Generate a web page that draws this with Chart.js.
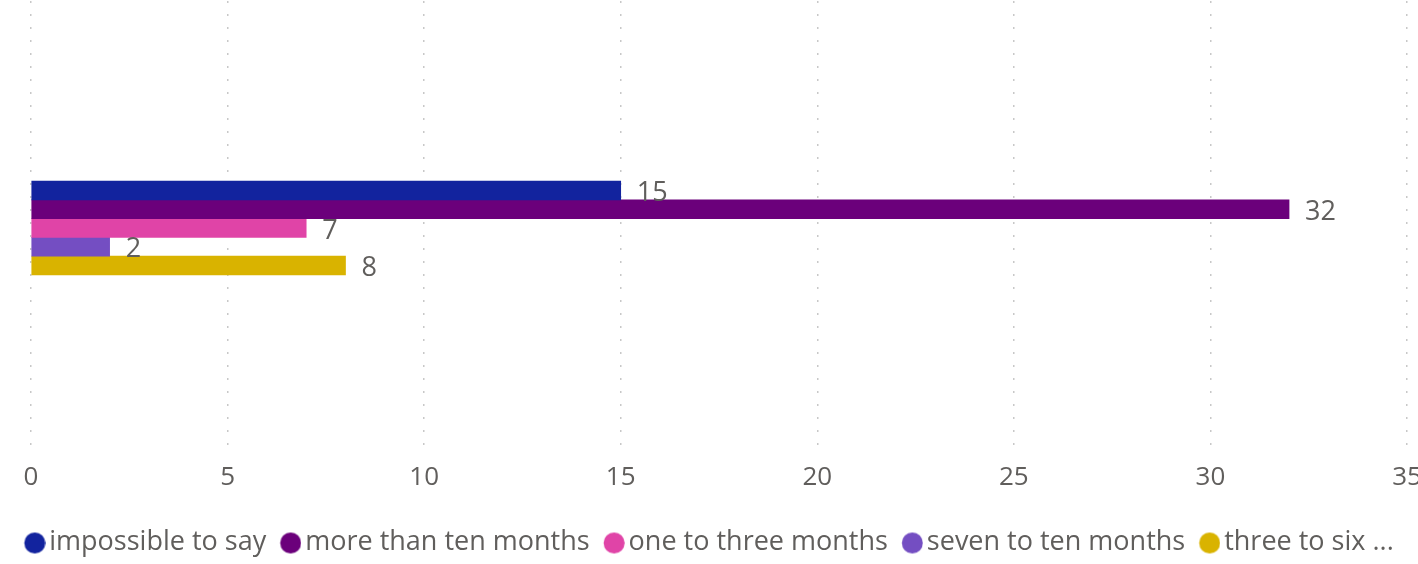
<!DOCTYPE html>
<html>
<head>
<meta charset="utf-8">
<script src="https://cdn.jsdelivr.net/npm/chart.js@4"></script>
<style>
  html, body { margin: 0; padding: 0; background: #fff; }
  #wrap { width: 1418px; height: 564px; position: relative; }
</style>
</head>
<body>
<div id="wrap"><canvas id="chart"></canvas></div>
<script>
const categories = [""];
const seriesNames = ["impossible to say", "more than ten months", "one to three months", "seven to ten months", "three to six ..."];
const seriesValues = [[15], [32], [7], [2], [8]];
const seriesColors = ["#12239E", "#6B007B", "#E044A7", "#744EC2", "#D9B300"];
const xTicks = [0, 5, 10, 15, 20, 25, 30, 35];

const FONT = '"Open Sans", "Noto Sans", sans-serif';
const TEXT_COLOR = "#605e5c";

// legend dots: the circle sits right of the image centre so the text comes close to it
function makeDot(color) {
    const c = document.createElement("canvas");
    c.width = 31;
    c.height = 24;
    const g = c.getContext("2d");
    g.fillStyle = color;
    g.beginPath();
    g.arc(20.25, 12.5, 10.5, 0, Math.PI * 2);
    g.fill();
    return c;
}
const legendDots = seriesColors.map(makeDot);

// value labels at the end of every bar
const barLabels = {
    id: "barLabels",
    afterDatasetsDraw(chart) {
        const ctx = chart.ctx;
        ctx.save();
        ctx.font = "27px " + FONT;
        ctx.fillStyle = TEXT_COLOR;
        ctx.textBaseline = "middle";
        ctx.textAlign = "left";
        chart.data.datasets.forEach((ds, i) => {
            chart.getDatasetMeta(i).data.forEach((bar, j) => {
                ctx.fillText(ds.data[j], bar.x + 16, bar.y + 3);
            });
        });
        ctx.restore();
    }
};

const ctx = document.getElementById("chart");

const chart = new Chart(ctx, {
    type: "bar",
    data: {
        labels: categories,
        datasets: seriesNames.map((name, i) => ({
            label: name,
            data: seriesValues[i],
            backgroundColor: seriesColors[i],
            borderWidth: 0,
            barThickness: 18.75
        }))
    },
    options: {
        indexAxis: "y",
        responsive: true,
        maintainAspectRatio: false,
        animation: false,
        layout: { padding: { top: 1, left: 0, right: 0, bottom: -2 } },
        scales: {
            x: {
                min: 0,
                max: 35,
                afterBuildTicks: (scale) => {
                    scale.ticks = xTicks.map(v => ({ value: v }));
                },
                afterFit: (scale) => {
                    scale.paddingLeft = 31;
                    scale.paddingRight = 11;
                    scale.height = 60;
                },
                // v4 takes the grid line dash from border.dash
                border: { display: false, dash: [2, 11] },
                grid: {
                    color: "#c8c8c8",
                    lineWidth: 1.5,
                    drawTicks: false
                },
                ticks: {
                    color: TEXT_COLOR,
                    font: { family: FONT, size: 26 },
                    padding: 7,
                    maxRotation: 0
                }
            },
            y: {
                display: false
            }
        },
        plugins: {
            legend: {
                position: "bottom",
                align: "center",
                labels: {
                    usePointStyle: true,
                    pointStyleWidth: 11.5,
                    padding: 14,
                    color: TEXT_COLOR,
                    font: { family: FONT, size: 27 },
                    generateLabels(chart) {
                        const items = Chart.defaults.plugins.legend.labels.generateLabels(chart);
                        items.forEach((it, i) => { it.pointStyle = legendDots[i]; });
                        return items;
                    }
                }
            },
            tooltip: { enabled: false }
        }
    },
    plugins: [barLabels]
});
</script>
</body>
</html>
